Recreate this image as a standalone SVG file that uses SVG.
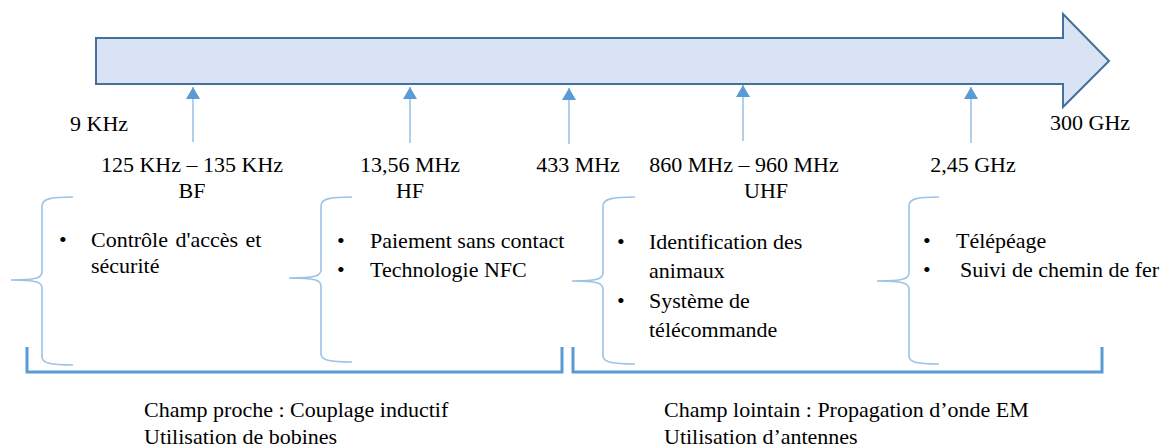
<svg xmlns="http://www.w3.org/2000/svg" width="1174" height="448" viewBox="0 0 1174 448">
<defs>
<style>
text{font-family:'Liberation Serif','DejaVu Serif',serif;font-size:22px;fill:#000}
.c{text-anchor:middle}
.brace{fill:none;stroke:#9dc3e6;stroke-width:1.6}
.bracket{fill:none;stroke:#5b9bd5;stroke-width:3}
.tick{stroke:#9dc3e6;stroke-width:1.6}
</style>
<marker id="ah" viewBox="0 0 12 14" refX="12" refY="7" markerWidth="12" markerHeight="14" markerUnits="userSpaceOnUse" orient="auto">
<path d="M0,0 L12,7 L0,14 Z" fill="#5b9bd5"/>
</marker>
</defs>
<rect width="1174" height="448" fill="#fff"/>
<g id="spectrum" font-family="Liberation Serif, serif">
<path d="M96,38 L1063,38 L1063,14 L1109,61 L1063,107 L1063,84 L96,84 Z" fill="#dae3f3" stroke="#41719c" stroke-width="2"/>
<text x="70" y="131">9 KHz</text>
<text x="1050" y="130">300 GHz</text>
</g>
<g id="connectors">
<line class="tick" x1="193" y1="142" x2="193" y2="87" marker-end="url(#ah)"/>
<line class="tick" x1="410" y1="143" x2="410" y2="87" marker-end="url(#ah)"/>
<line class="tick" x1="569" y1="144" x2="569" y2="88" marker-end="url(#ah)"/>
<line class="tick" x1="743" y1="141" x2="743" y2="85" marker-end="url(#ah)"/>
<line class="tick" x1="971" y1="143" x2="971" y2="87" marker-end="url(#ah)"/>
</g>
<g id="bf">
<text class="c" x="192" y="172">125 KHz – 135 KHz</text>
<text class="c" x="192" y="198">BF</text>
<path class="brace" d="M73,197 C50,197 42,199 42,206 L42,272 C42,278 36,280 11,280 C36,280 42,282 42,288 L42,357 C42,363 50,365 73,365"/>
<text x="59" y="247">•</text>
<text x="91" y="247" word-spacing="2">Contrôle d'accès et</text>
<text x="91" y="273">sécurité</text>
</g>
<g id="hf">
<text class="c" x="410" y="172">13,56 MHz</text>
<text class="c" x="410" y="198">HF</text>
<path class="brace" d="M352,197 C329,197 321,199 321,206 L321,270 C321,276 315,278 289,278 C315,278 321,280 321,286 L321,354 C321,360 329,362 352,362"/>
<text x="337" y="248">•</text>
<text x="370" y="248">Paiement sans contact</text>
<text x="337" y="277">•</text>
<text x="370" y="277">Technologie NFC</text>
</g>
<g id="f433">
<text class="c" x="578" y="172">433 MHz</text>
</g>
<g id="uhf">
<text class="c" x="744" y="172">860 MHz – 960 MHz</text>
<text x="744" y="198">UHF</text>
<path class="brace" d="M635,197 C612,197 603,199 603,206 L603,273 C603,279 597,281 572,281 C597,281 603,283 603,289 L603,356 C603,362 612,364 635,364"/>
<text x="617" y="249">•</text>
<text x="649" y="249">Identification des</text>
<text x="649" y="278">animaux</text>
<text x="617" y="308">•</text>
<text x="649" y="308">Système de</text>
<text x="649" y="337">télécommande</text>
</g>
<g id="ghz">
<text class="c" x="973" y="172">2,45 GHz</text>
<path class="brace" d="M939,197 C916,197 909,199 909,206 L909,273 C909,279 903,281 877,281 C903,281 909,283 909,289 L909,356 C909,362 916,364 939,364"/>
<text x="923" y="248">•</text>
<text x="956" y="248">Télépéage</text>
<text x="923" y="277">•</text>
<text x="960" y="277">Suivi de chemin de fer</text>
</g>
<g id="near">
<path class="bracket" d="M27,347 L27,372 L562,372 L562,347"/>
<text x="144" y="417">Champ proche : Couplage inductif</text>
<text x="144" y="444">Utilisation de bobines</text>
</g>
<g id="far">
<path class="bracket" d="M573,347 L573,372 L1102,372 L1102,347"/>
<text x="664" y="417">Champ lointain : Propagation d’onde EM</text>
<text x="664" y="444">Utilisation d’antennes</text>
</g>
</svg>
